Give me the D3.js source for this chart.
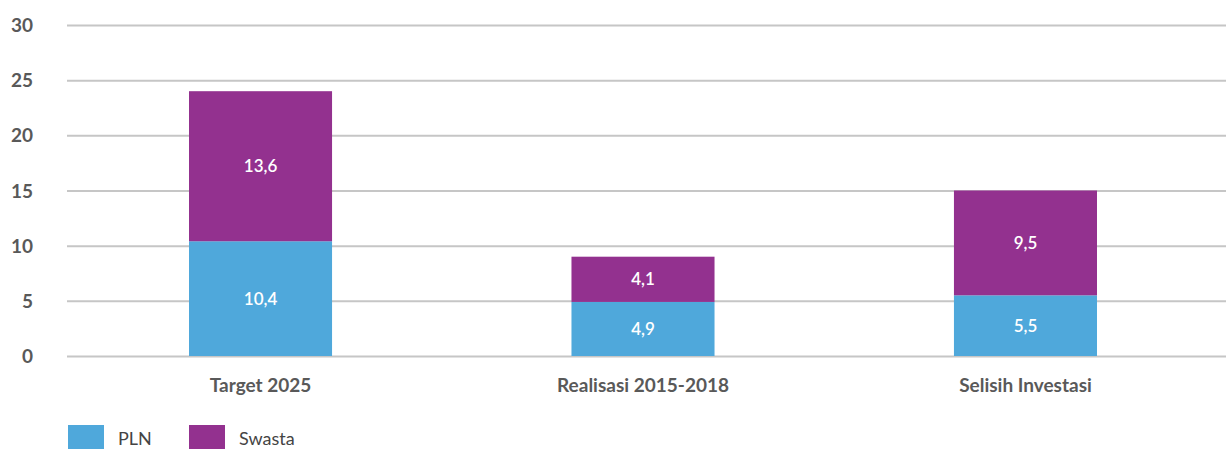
<!DOCTYPE html>
<html>
<head>
<meta charset="utf-8">
<script src="https://cdn.jsdelivr.net/npm/d3@7"></script>
<style>
  html, body { margin: 0; padding: 0; background: #fff; }
  svg { display: block; }
  svg text { font-family: "Lato", "Noto Sans", sans-serif; }
</style>
</head>
<body>
<svg id="chart" width="1226" height="449"></svg>
<script>
// Investment by source (PLN vs private), stacked per category
const categories = ["Target 2025", "Realisasi 2015-2018", "Selisih Investasi"];
const plnValues = [10.4, 4.9, 5.5];
const swastaValues = [13.6, 4.1, 9.5];
const seriesNames = ["PLN", "Swasta"];
const seriesColors = ["#4FA8DB", "#93318F"];
const yTicks = [0, 5, 10, 15, 20, 25, 30];

const svg = d3.select("#chart");
const W = 1226;
const margin = { left: 67, top: 25 };
const plotBottom = 356;

const x = d3.scaleBand()
  .domain(categories)
  .range([margin.left, 1219])
  .paddingInner(0.626)
  .paddingOuter(0.319);

const y = d3.scaleLinear().domain([0, 30]).range([plotBottom, margin.top]);

// gridlines + y tick labels
const yAxis = d3.axisLeft(y).tickValues(yTicks).tickSize(-(W - margin.left)).tickFormat(d3.format("d"));
const gy = svg.append("g").attr("transform", `translate(${margin.left},0)`).call(yAxis)
  .attr("font-family", null);
gy.select(".domain").remove();
gy.selectAll(".tick line").attr("stroke", "#c6c6c6").attr("stroke-width", 2);
gy.selectAll(".tick text")
  .attr("x", -34).attr("dy", "0.35em")
  .attr("fill", "#595959").attr("font-size", 19).attr("font-weight", 700)
  .attr("text-anchor", "end");

// stacked data
const rows = categories.map((c, i) => ({ category: c, PLN: plnValues[i], Swasta: swastaValues[i] }));
const stack = d3.stack().keys(seriesNames)(rows);

const layers = svg.append("g").selectAll("g").data(stack).join("g")
  .attr("fill", (d, i) => seriesColors[i]);

layers.selectAll("rect").data(d => d).join("rect")
  .attr("x", d => x(d.data.category))
  .attr("width", x.bandwidth())
  .attr("y", d => y(d[1]))
  .attr("height", d => y(d[0]) - y(d[1]));

// value labels in segment centres
const fmt = v => d3.format(".1f")(v).replace(".", ",");
svg.append("g").selectAll("g").data(stack).join("g")
  .selectAll("text").data((layer) => layer.map(d => ({ d, key: layer.key }))).join("text")
  .attr("x", o => x(o.d.data.category) + x.bandwidth() / 2)
  .attr("y", o => y((o.d[0] + o.d[1]) / 2))
  .attr("dy", "0.35em")
  .attr("text-anchor", "middle")
  .attr("fill", "#fff")
  .attr("font-size", 17)
  .attr("font-weight", 600)
  .text(o => fmt(o.d.data[o.key]));

// category axis labels
const xAxis = d3.axisBottom(x).tickSize(0).tickPadding(0);
const gx = svg.append("g").attr("transform", `translate(0,${plotBottom})`).call(xAxis)
  .attr("font-family", null);
gx.select(".domain").remove();
gx.selectAll(".tick text")
  .attr("y", 29).attr("dy", "0.35em")
  .attr("fill", "#595959").attr("font-size", 19).attr("font-weight", 700);

// legend
const legend = svg.append("g").attr("transform", "translate(68,425)");
const items = legend.selectAll("g").data(seriesNames).join("g")
  .attr("transform", (d, i) => `translate(${i * 121},0)`);
items.append("rect").attr("width", 36).attr("height", 24).attr("fill", (d, i) => seriesColors[i]);
items.append("text")
  .attr("x", 50).attr("y", 14).attr("dy", "0.35em")
  .attr("fill", "#444").attr("font-size", 18)
  .text(d => d);
</script>
</body>
</html>
